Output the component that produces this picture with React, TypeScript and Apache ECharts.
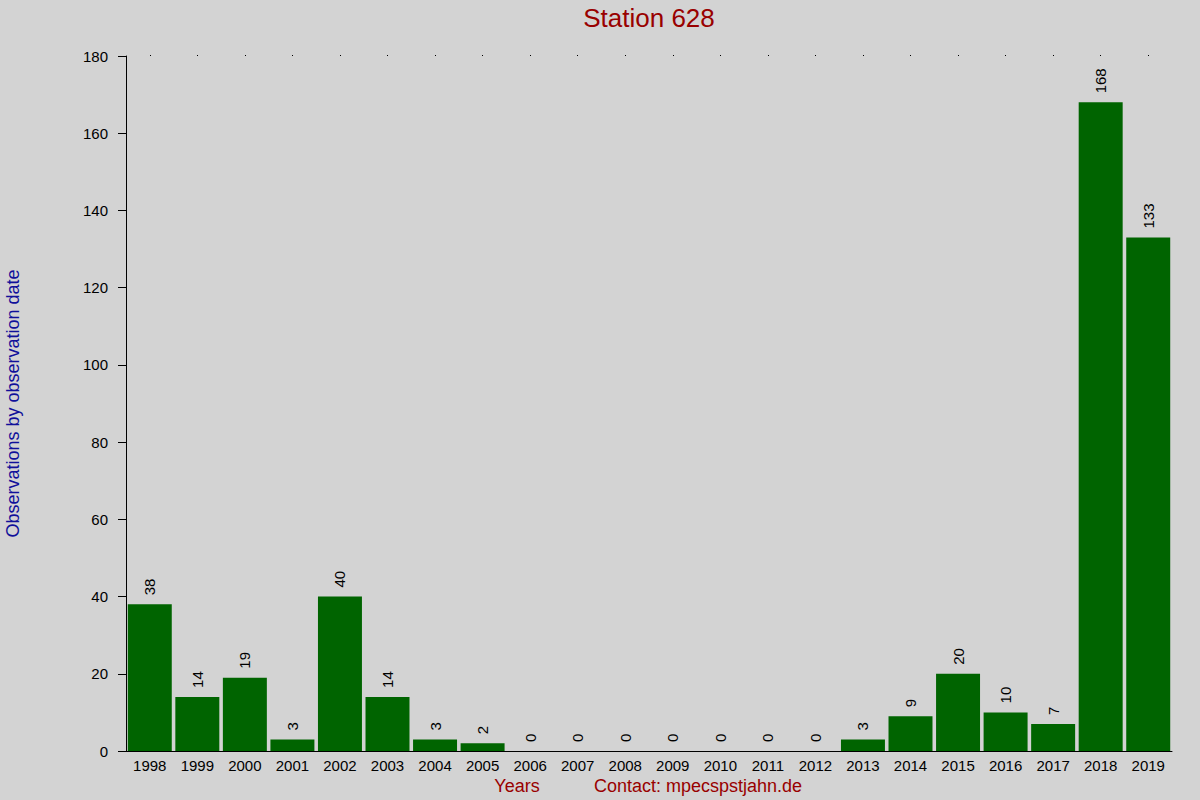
import React, { useEffect, useRef } from "react";
import * as echarts from "echarts";

const years = ["1998","1999","2000","2001","2002","2003","2004","2005","2006","2007","2008","2009","2010","2011","2012","2013","2014","2015","2016","2017","2018","2019"];
const counts = [38,14,19,3,40,14,3,2,0,0,0,0,0,0,0,3,9,20,10,7,168,133];
const titleText = "Station 628";
const yName = "Observations by observation date";
const footerLeft = "Years";
const footerRight = "Contact: mpecspstjahn.de";

const FONT = "'Liberation Sans', Arial, sans-serif";

export default function App() {
  const ref = useRef<HTMLDivElement>(null);
  useEffect(() => {
    if (!ref.current) return;
    const chart = echarts.init(ref.current, undefined, { renderer: "svg" });
    chart.setOption({
      animation: false,
      backgroundColor: "#d3d3d3",
      textStyle: { fontFamily: FONT },
      grid: { left: 126, right: 28, top: 56, bottom: 49, containLabel: false, outerBoundsMode: "none" },
      xAxis: [
        {
          type: "category",
          data: years,
          axisLine: { show: true, lineStyle: { color: "#000", width: 1 } },
          axisTick: { show: false },
          axisLabel: { color: "#000", fontSize: 15, margin: 7, fontFamily: FONT },
          splitLine: { show: false },
        },
        {
          type: "category",
          data: years,
          position: "top",
          axisLine: { show: false },
          axisTick: { show: true, alignWithLabel: true, length: 1, lineStyle: { color: "#000", width: 1 } },
          axisLabel: { show: false },
          splitLine: { show: false },
        },
      ],
      yAxis: {
        type: "value",
        min: 0,
        max: 180,
        interval: 20,
        name: yName,
        nameLocation: "middle",
        nameGap: 104,
        nameTextStyle: { color: "#10109a", fontSize: 18, fontFamily: FONT },
        axisLine: { show: true, lineStyle: { color: "#000", width: 1 } },
        axisTick: { show: true, length: 8, lineStyle: { color: "#000" } },
        axisLabel: { color: "#000", fontSize: 15, margin: 18, fontFamily: FONT },
        splitLine: { show: false },
      },
      series: [
        {
          type: "bar",
          data: counts,
          xAxisIndex: 0,
          barCategoryGap: "7.5%",
          itemStyle: { color: "#006400" },
          label: {
            show: true,
            position: "top",
            rotate: 90,
            align: "left",
            verticalAlign: "middle",
            distance: 9,
            color: "#000",
            fontSize: 15,
            fontFamily: FONT,
          },
        },
      ],
      graphic: [
        {
          type: "text",
          x: 649,
          y: 18,
          style: { text: titleText, fill: "#990000", fontSize: 26, fontFamily: FONT, align: "center", verticalAlign: "middle" },
        },
        {
          type: "text",
          x: 517,
          y: 786,
          style: { text: footerLeft, fill: "#990000", fontSize: 18, fontFamily: FONT, align: "center", verticalAlign: "middle" },
        },
        {
          type: "text",
          x: 698,
          y: 786,
          style: { text: footerRight, fill: "#990000", fontSize: 18, fontFamily: FONT, align: "center", verticalAlign: "middle" },
        },
      ],
    });
    return () => chart.dispose();
  }, []);
  return <div ref={ref} style={{ position: "absolute", left: 0, top: 0, width: 1200, height: 800 }} />;
}
